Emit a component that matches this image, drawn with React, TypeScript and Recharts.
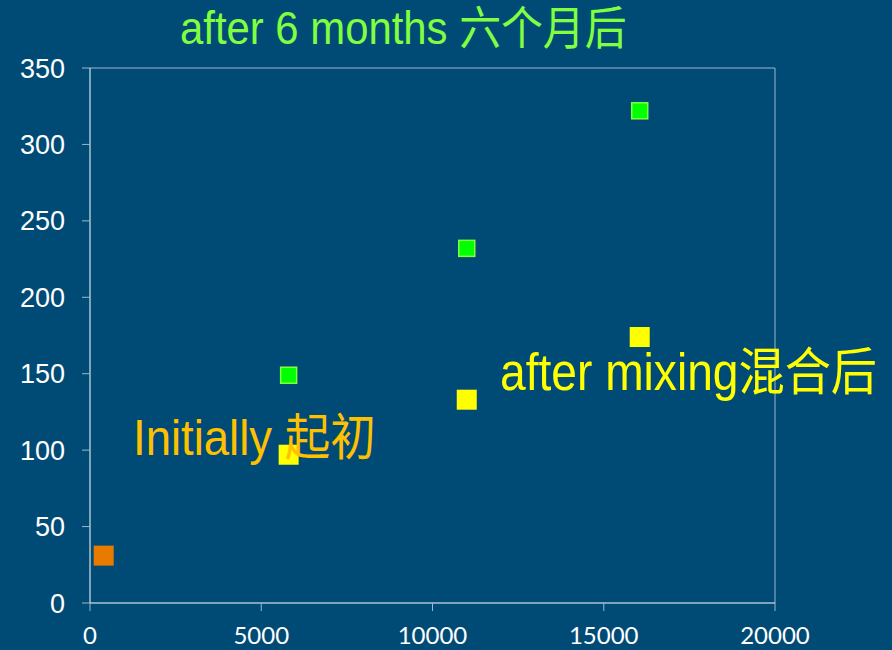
import React from "react";
import { ScatterChart, Scatter, XAxis, YAxis, ReferenceLine } from "recharts";

const initial = [{ x: 400, y: 31 }];
const afterMixing = [
  { x: 5800, y: 97 },
  { x: 11000, y: 133 },
  { x: 16050, y: 174 },
];
const afterSixMonths = [
  { x: 5800, y: 149 },
  { x: 11000, y: 232 },
  { x: 16050, y: 322 },
];
const xTicks = [0, 5000, 10000, 15000, 20000];
const yTicks = [0, 50, 100, 150, 200, 250, 300, 350];

const BG = "#004b76";
const narrow = '"Liberation Sans", "Noto Sans CJK SC", sans-serif';

const square = (size: number, fill: string, stroke?: string) => (props: any) => {
  const { cx, cy } = props;
  return (
    <rect
      x={cx - size / 2}
      y={cy - size / 2}
      width={size}
      height={size}
      fill={fill}
      stroke={stroke || "none"}
      strokeWidth={stroke ? 1.5 : 0}
    />
  );
};

// squeezed text, like the narrow font of the original slide
const Squeezed = ({ x, y, size, sx, color, children }: any) => (
  <text
    transform={`translate(${x},${y}) scale(${sx},1)`}
    fill={color}
    fontSize={size}
    fontFamily={narrow}
  >
    {children}
  </text>
);

const App = () => {
  return (
    <div style={{ position: "fixed", left: 0, top: 0, width: 892, height: 650, background: BG }}>
      <ScatterChart width={892} height={650} margin={{ top: 68, right: 117, left: 0, bottom: 0 }}>
        <XAxis
          type="number"
          dataKey="x"
          domain={[0, 20000]}
          ticks={xTicks}
          height={47}
          stroke="#ffffff"
          tickLine={{ stroke: "#9fb6cc" }}
          tickSize={8}
          tick={{ fill: "#ffffff", fontSize: 24, fontFamily: "Lato, sans-serif" }}
          tickMargin={16}
        />
        <YAxis
          type="number"
          dataKey="y"
          domain={[0, 350]}
          ticks={yTicks}
          width={90}
          stroke="#ffffff"
          tickLine={{ stroke: "#9fb6cc" }}
          tickSize={8}
          tick={{ fill: "#ffffff", fontSize: 27, fontFamily: narrow }}
          tickMargin={17}
        />
        <ReferenceLine y={350} stroke="#9fb6cc" strokeWidth={1} />
        <ReferenceLine x={20000} stroke="#9fb6cc" strokeWidth={1} />
        <Scatter data={initial} fill="#e87a00" shape={square(20, "#e87a00")} isAnimationActive={false} />
        <Scatter data={afterMixing} fill="#ffff00" shape={square(20, "#ffff00")} isAnimationActive={false} />
        <Scatter data={afterSixMonths} fill="#00ff00" shape={square(16, "#00ff00", "#80ff40")} isAnimationActive={false} />
      </ScatterChart>
      <svg width={892} height={650} style={{ position: "absolute", left: 0, top: 0, pointerEvents: "none" }}>
        <Squeezed x={180} y={44} size={46} sx={0.91} color="#80ff40">after 6 months 六个月后</Squeezed>
        <Squeezed x={133} y={455} size={50} sx={0.91} color="#ffc000">Initially 起初</Squeezed>
        <Squeezed x={500} y={390} size={51} sx={0.905} color="#ffff00">after mixing混合后</Squeezed>
      </svg>
    </div>
  );
};

export default App;
